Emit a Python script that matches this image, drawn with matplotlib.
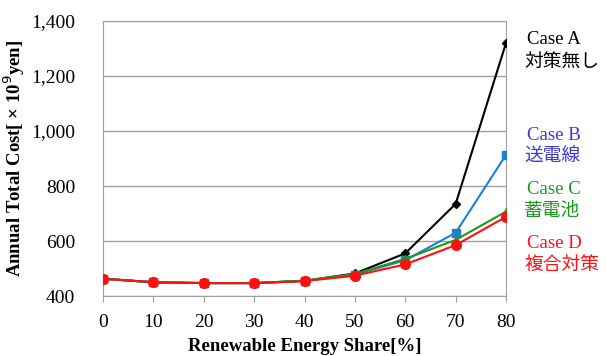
import matplotlib
matplotlib.use("Agg")
import matplotlib.pyplot as plt

share = [0, 10, 20, 30, 40, 50, 60, 70, 80]
case_a = [463, 450, 447, 447, 455, 482, 555, 735, 1320]
case_b = [463, 450, 447, 447, 455, 478, 530, 630, 913]
case_c = [463, 450, 447, 447, 456, 480, 535, 604, 707]
case_d = [463, 450, 447, 447, 454, 474, 515, 585, 688]
yticks = [400, 600, 800, 1000, 1200, 1400]
labels_en = ["Case A", "Case B", "Case C", "Case D"]
labels_jp = ["対策無し", "送電線", "蓄電池", "複合対策"]

fig = plt.figure(figsize=(6.06, 3.56), dpi=100)
ax = fig.add_axes([0.17, 0.1685, 0.665, 0.7725])

ax.plot(share, case_a, color="black", marker="D", markersize=4, lw=1.5, zorder=3)
ax.plot(share, case_b, color="#1f7fd0", marker="s", markersize=6, lw=1.5, zorder=4)
ax.plot(share, case_c, color="#1a9a1a", marker="^", markersize=6, lw=1.5, zorder=5)
ax.plot(share, case_d, color="#ff1010", marker="o", markersize=7, lw=1.5, zorder=6)

ax.set_xlim(0, 80)
ax.set_ylim(400, 1400)
ax.set_xticks(share)
ax.set_yticks(yticks)
ax.set_yticklabels([f"{v:,}" for v in yticks])
ax.yaxis.grid(True, color="#a0a0a0", lw=1)
ax.set_axisbelow(True)
for s in ax.spines.values():
    s.set_color("#a0a0a0")
ax.tick_params(axis="y", length=0, pad=20)
ax.tick_params(axis="x", length=4, color="#a0a0a0", pad=9)
for lab in ax.get_xticklabels() + ax.get_yticklabels():
    lab.set_fontfamily("Liberation Serif")
    lab.set_fontsize(14)

ax.set_xlabel("Renewable Energy Share[%]", fontfamily="Liberation Serif",
              fontweight="bold", fontsize=13.5, labelpad=5)
ax.set_ylabel("Annual Total Cost[ × 10$^9$yen]", fontfamily="Liberation Serif",
              fontweight="bold", fontsize=13.5, labelpad=3)

colors_txt = ["black", "#3a3ad0", "#1a9a1a", "#ff1010"]
ys = [40, 135, 190, 243]
for en, jp, c, y in zip(labels_en, labels_jp, colors_txt, ys):
    fig.text(527 / 606, 1 - y / 356, en, color=c, fontfamily="Liberation Serif",
             fontsize=13.5, ha="left", va="center")
    fig.text(524 / 606, 1 - (y + 21) / 356, jp, color=c,
             fontfamily=["Noto Sans CJK JP", "DejaVu Sans"],
             fontsize=13.5, ha="left", va="center")

fig.savefig("out.png", dpi=100)
